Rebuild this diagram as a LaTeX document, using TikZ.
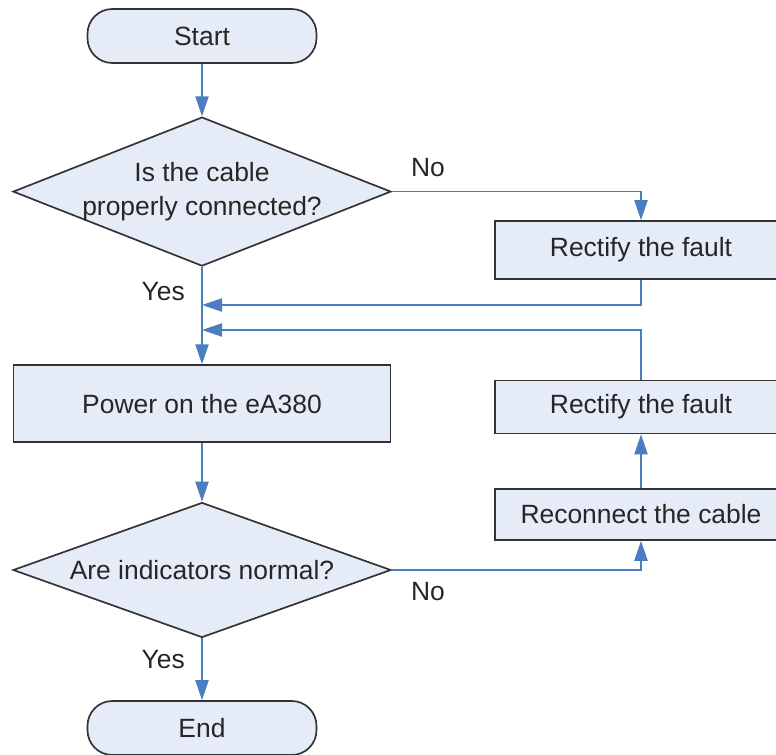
\documentclass[tikz,border=0pt]{standalone}
\usepackage{fontspec}
\setmainfont{Liberation Sans}
\usetikzlibrary{arrows.meta,shapes.geometric}
\definecolor{boxfill}{RGB}{230,236,247}
\definecolor{flowblue}{RGB}{74,126,193}

\begin{document}
\begin{tikzpicture}[every node/.style={font=\fontsize{18.8pt}{24.2pt}\selectfont, text=black!85}, >={Triangle[length=5mm, width=3.3mm]},
	box/.style={draw=black!80, line width=1.2pt, fill=boxfill, minimum width=7.3cm, inner sep=0pt},
	term/.style={box, rounded corners=0.62cm, minimum width=5.725cm, minimum height=1.35cm},
	decision/.style={diamond, draw=black!80, line width=1.2pt, fill=boxfill, inner sep=-5mm, aspect=2.6, align=center},
	flow/.style={flowblue, line width=1.1pt},
	lab/.style={inner sep=1pt}]
	\useasboundingbox (0,0) rectangle (19.4,-18.85);
	\node[term] (start) at (5.05,-0.9) {Start};
	\node[decision, minimum width=9.45cm, minimum height=3.725cm] (cable) at (5.05,-4.79) {Is the cable\\properly connected?};
	\node[box, minimum height=1.45cm] (fix1) at (16.025,-6.25) {Rectify the fault};
	\node[box, minimum width=9.425cm, minimum height=1.925cm] (power) at (5.05,-10.09) {Power on the eA380};
	\node[box, minimum height=1.325cm] (fix2) at (16.025,-10.175) {Rectify the fault};
	\node[box, minimum height=1.275cm] (reconnect) at (16.025,-12.86) {Reconnect the cable};
	\node[decision, minimum width=9.45cm, minimum height=3.375cm] (indic) at (5.05,-14.25) {Are indicators normal?};
	\node[term] (finish) at (5.05,-18.2) {End};
	\node[lab] (no1) at (10.7,-4.18) {No};
	\node[lab] (yes1) at (4.08,-7.3) {Yes};
	\node[lab] (no2) at (10.7,-14.8) {No};
	\node[lab] (yes2) at (4.08,-16.48) {Yes};
	\coordinate (back1) at (5.05,-7.625);
	\coordinate (back2) at (5.05,-8.25);
	\foreach \a/\b in {start/cable, cable/power, power/indic, indic/finish, reconnect/fix2} {\draw[flow, ->] (\a) -- (\b);}
	\draw[flow, ->] (cable.east) -| (fix1.north);
	\draw[flow, ->] (indic.east) -| (reconnect.south);
	\draw[flow, ->] (fix1.south) |- (back1);
	\draw[flow, ->] (fix2.north) |- (back2);
\end{tikzpicture}
\end{document}
